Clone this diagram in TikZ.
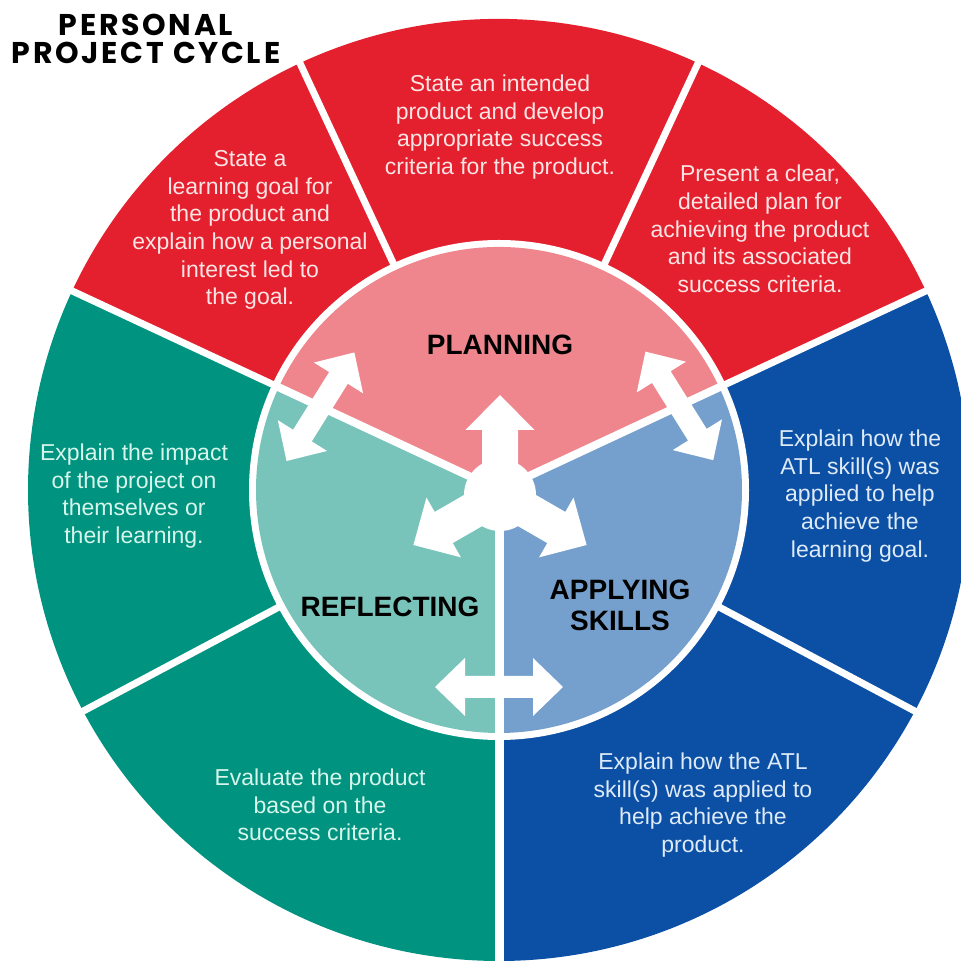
\documentclass[tikz,border=0pt]{standalone}
\usepackage{fontspec}
\setmainfont{Liberation Sans}
\newfontfamily\titlefont[LetterSpace=9]{Poppins}
\definecolor{redO}{RGB}{229,32,46}
\definecolor{pinkI}{RGB}{239,134,142}
\definecolor{tealO}{RGB}{0,148,128}
\definecolor{tealI}{RGB}{121,196,186}
\definecolor{blueO}{RGB}{12,80,165}
\definecolor{blueI}{RGB}{117,160,205}
\definecolor{txtR}{RGB}{250,228,228}
\definecolor{txtT}{RGB}{215,245,235}
\definecolor{txtB}{RGB}{222,234,247}
\newcommand\mysector[4]{\fill[#1] (0,0) -- (#2:#4) arc[start angle=#2, end angle=#3, radius=#4] -- cycle;}
\newcommand\dblarrow{\fill[white] (-64,0) -- (-34,29) -- (-34,11) -- (34,11) -- (34,29) -- (64,0) -- (34,-29) -- (34,-11) -- (-34,-11) -- (-34,-29) -- cycle;}
\newcommand\onearrow{\fill[white] (0,-18) -- (65,-18) -- (65,-34.5) -- (100,0) -- (65,34.5) -- (65,18) -- (0,18) -- cycle;}
\tikzset{
  body/.style={align=center, inner sep=0pt, font=\fontsize{23}{27.7}\selectfont},
  phase/.style={align=center, inner sep=0pt, text=black, font=\bfseries\fontsize{28}{31}\selectfont},
  divider/.style={white, line width=7pt},
}
\begin{document}
\begin{tikzpicture}[x=1pt,y=1pt]
\useasboundingbox (0,0) rectangle (961,962);
\clip (0,0) rectangle (961,962);
\fill[white] (0,0) rectangle (961,962);
\begin{scope}[shift={(499,472)}]
  % outer ring
  \mysector{redO}{25}{155}{471}
  \mysector{blueO}{-90}{25}{471}
  \mysector{tealO}{155}{270}{471}
  \foreach \a in {65,115,155,25,-28,208} \draw[divider] (0,0) -- (\a:480);
  \draw[divider, line width=9pt] (0,0) -- (270:480);
  % inner disc
  \fill[white] (0,0) circle (250);
  \mysector{pinkI}{25}{155}{243}
  \mysector{tealI}{155}{270}{243}
  \mysector{blueI}{-90}{25}{243}
  \draw[divider, line width=8pt] (0,0) -- (25:246);
  \draw[divider, line width=8pt] (0,0) -- (155:246);
  \draw[divider, line width=9pt] (0,0) -- (270:246);
  % double arrows
  \begin{scope}[shift={(155:197)}, rotate=58] \dblarrow \end{scope}
  \begin{scope}[shift={(25:199)}, rotate=-58] \dblarrow \end{scope}
  \begin{scope}[shift={(270:197)}] \dblarrow \end{scope}
  % three-way arrow
  \begin{scope}[shift={(1,-5)}]
    \fill[white] (0,0) circle (36);
    \begin{scope}[rotate=90] \onearrow \end{scope}
    \begin{scope}[rotate=210] \onearrow \end{scope}
    \begin{scope}[rotate=330] \onearrow \end{scope}
  \end{scope}
\end{scope}
% title
\node[align=center, inner sep=0pt, font=\titlefont\bfseries\fontsize{30}{28}\selectfont] (title) at (146,923) {PERSONAL\\PROJECT CYCLE};
% outer texts
\node[body, text=txtR] (redL) at (250,732) {State a\\learning goal for\\the product and\\explain how a personal\\interest led to\\the goal.};
\node[body, text=txtR] (redT) at (500,835) {State an intended\\product and develop\\appropriate success\\criteria for the product.};
\node[body, text=txtR] (redR) at (760,733) {Present a clear,\\detailed plan for\\achieving the product\\and its associated\\success criteria.};
\node[body, text=txtB] (blueU) at (860,466) {Explain how the\\ATL skill(s) was\\applied to help\\achieve the\\learning goal.};
\node[body, text=txtB] (blueL) at (703,157) {Explain how the ATL\\skill(s) was applied to\\help achieve the\\product.};
\node[body, text=txtT] (tealL) at (320,157) {Evaluate the product\\based on the\\success criteria.};
\node[body, text=txtT] (tealU) at (134,466) {Explain the impact\\of the project on\\themselves or\\their learning.};
% phase labels
\node[phase] (plan) at (500,617) {PLANNING};
\node[phase] (refl) at (390,355) {REFLECTING};
\node[phase] (appl) at (620,357) {APPLYING\\SKILLS};
\end{tikzpicture}
\end{document}
